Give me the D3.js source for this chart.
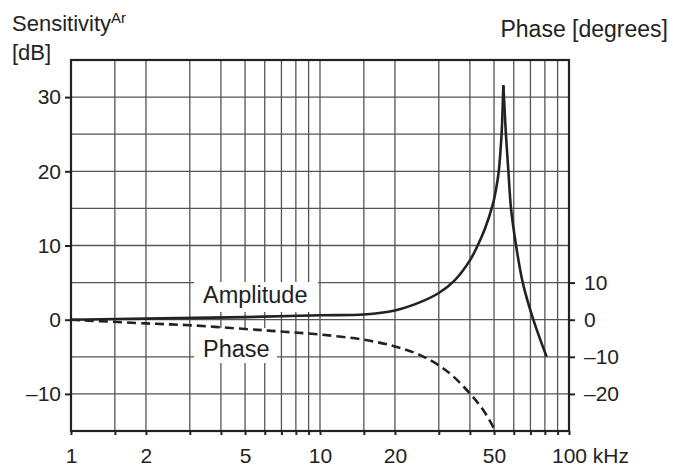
<!DOCTYPE html>
<html>
<head>
<meta charset="utf-8">
<script src="https://cdn.jsdelivr.net/npm/d3@7"></script>
<style>
  body { margin: 0; background: #fff; }
  text { font-family: "Liberation Sans", Arial, sans-serif; fill: #222; }
</style>
</head>
<body>
<svg id="chart" width="673" height="467"></svg>
<script>
// amplitude curve (kHz -> dB), rising branch up to the peak and falling branch after it
const ampRiseFreq = [1, 2, 5, 10, 15, 20, 25, 30, 34.5, 40, 43.1, 46, 49.4, 51, 52.1, 53, 53.7, 54.5];
const ampRiseDb   = [0, 0.15, 0.35, 0.6, 0.7, 1.25, 2.3, 3.6, 5.2, 8, 10.1, 12.3, 15.5, 17.7, 19.7, 22.5, 25.5, 31.6];
const ampFallFreq = [54.5, 55.8, 57.1, 58.5, 61.3, 65.2, 71.9, 81.3];
const ampFallDb   = [31.6, 25, 20, 15, 10, 5, 0, -5];

// phase curve (kHz -> degrees)
const phaseFreq = [1, 2, 3, 5, 7, 10, 15, 20, 25, 30, 34.3, 40, 45.3, 50.4, 51];
const phaseDeg  = [0, -1.0, -1.5, -2.5, -3.2, -4.0, -5.4, -7.2, -9.4, -12.3, -15.3, -19.9, -24.4, -29.8, -30.6];

const gridX = [1.5, 2, 3, 4, 5, 6, 7, 8, 9, 10, 15, 20, 30, 40, 50, 60, 70, 80, 90];
const gridY = [-10, -5, 0, 5, 10, 15, 20, 25, 30];
const xLabels = [1, 2, 5, 10, 20, 50, 100];
const yTicks = [30, 20, 10, 0, -10];
const phaseTicks = [10, 0, -10, -20];

const svg = d3.select('#chart');
const pLeft = 71, pRight = 569, pTop = 60, pBottom = 431;

const x = d3.scaleLog().domain([1, 100]).range([pLeft, pRight]);
const y = d3.scaleLinear().domain([-15, 35]).range([pBottom, pTop]);
const yPhase = d3.scaleLinear().domain([-30, 70]).range([pBottom, pTop]);

const fmt = d => d < 0 ? '\u2013' + Math.abs(d) : String(d);

// grid
let grid = svg.append('g').attr('stroke', '#555').attr('stroke-width', 1.3);
grid.selectAll('.gx').data(gridX).enter().append('line')
    .attr('x1', d => x(d)).attr('x2', d => x(d))
    .attr('y1', pTop).attr('y2', pBottom);
grid.selectAll('.gy').data(gridY).enter().append('line')
    .attr('x1', pLeft).attr('x2', pRight)
    .attr('y1', d => y(d)).attr('y2', d => y(d));

// white boxes behind the curve labels
svg.append('rect').attr('x', 194).attr('y', 282).attr('width', 124).attr('height', 30).attr('fill', '#fff');
svg.append('rect').attr('x', 194).attr('y', 328).attr('width', 83).attr('height', 35).attr('fill', '#fff');

// axes
let axisFont = 21;

let gl = svg.append('g').attr('transform', `translate(${pLeft},0)`)
    .call(d3.axisLeft(y).tickValues(yTicks).tickSize(6).tickPadding(4).tickFormat(fmt));

let gr = svg.append('g').attr('transform', `translate(${pRight},0)`)
    .call(d3.axisRight(yPhase).tickValues(phaseTicks).tickSize(6).tickPadding(9).tickFormat(fmt));

let gb = svg.append('g').attr('transform', `translate(0,${pBottom})`)
    .call(d3.axisBottom(x).tickValues([1].concat(gridX, [100])).tickSize(4).tickPadding(13)
        .tickFormat(d => xLabels.includes(d) ? String(d) : ''));

[gl, gr, gb].forEach(g => {
    g.select('.domain').remove();
    g.selectAll('line').attr('stroke', '#222').attr('stroke-width', 2);
    g.selectAll('text').attr('font-size', axisFont).attr('font-family', '"Liberation Sans", Arial, sans-serif').attr('fill', '#222');
});

// "100 kHz" - keep the number centred on its tick
gb.selectAll('text').filter(d => d === 100).each(function() {
    let t = d3.select(this);
    let w = this.getComputedTextLength();
    t.attr('text-anchor', 'start').attr('x', -w / 2).text('100 kHz');
});

// frame
svg.append('rect').attr('x', pLeft).attr('y', pTop)
    .attr('width', pRight - pLeft).attr('height', pBottom - pTop)
    .attr('fill', 'none').attr('stroke', '#222').attr('stroke-width', 2.2);

svg.append('clipPath').attr('id', 'plot').append('rect')
    .attr('x', pLeft).attr('y', pTop).attr('width', pRight - pLeft).attr('height', pBottom - pTop);

// curves
let ampLine = d3.line().x(d => x(d[0])).y(d => y(d[1])).curve(d3.curveCatmullRom.alpha(0.5));
let phaseLine = d3.line().x(d => x(d[0])).y(d => yPhase(d[1])).curve(d3.curveCatmullRom.alpha(0.5));

[[ampRiseFreq, ampRiseDb], [ampFallFreq, ampFallDb]].forEach(([fs, vs]) => {
    svg.append('path')
        .datum(fs.map((f, i) => [f, vs[i]]))
        .attr('d', ampLine)
        .attr('fill', 'none').attr('stroke', '#222').attr('stroke-width', 2.6)
        .attr('clip-path', 'url(#plot)');
});

svg.append('path')
    .datum(phaseFreq.map((f, i) => [f, phaseDeg[i]]))
    .attr('d', phaseLine)
    .attr('fill', 'none').attr('stroke', '#222').attr('stroke-width', 2.6)
    .attr('stroke-dasharray', '9,5')
    .attr('clip-path', 'url(#plot)');

// labels
svg.append('text').attr('x', 203).attr('y', 303).attr('font-size', 23.5).text('Amplitude');
svg.append('text').attr('x', 203).attr('y', 357).attr('font-size', 23.5).text('Phase');

let title = svg.append('text').attr('x', 12).attr('y', 31).attr('font-size', 22);
title.append('tspan').text('Sensitivity');
title.append('tspan').attr('dy', -8).attr('font-size', 15).text('Ar');
svg.append('text').attr('x', 12).attr('y', 60).attr('font-size', 22).text('[dB]');

svg.append('text').attr('x', 668).attr('y', 37).attr('font-size', 23)
    .attr('text-anchor', 'end').text('Phase [degrees]');
</script>
</body>
</html>
